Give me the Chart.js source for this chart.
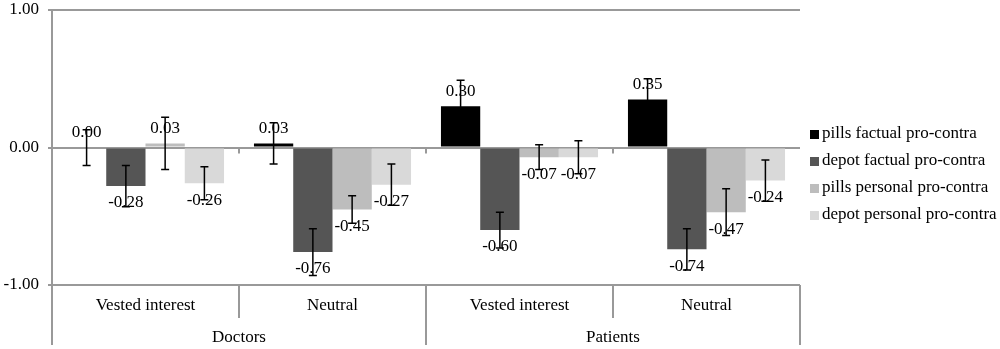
<!DOCTYPE html>
<html>
<head>
<meta charset="utf-8">
<script src="https://cdn.jsdelivr.net/npm/chart.js@4.4.0/dist/chart.umd.min.js"></script>
<style>
  html, body { margin: 0; padding: 0; background: #fff; }
  #wrap { width: 1000px; height: 349px; }
</style>
</head>
<body>
<div id="wrap"><canvas id="chart" width="1000" height="349"></canvas></div>
<script>
const categories = [`Vested interest`, `Neutral`, `Vested interest`, `Neutral`];
const groups = [`Doctors`, `Patients`];
const seriesNames = [`pills factual pro-contra`, `depot factual pro-contra`, `pills personal pro-contra`, `depot personal pro-contra`];
const pillsFactual = [0.00, 0.03, 0.30, 0.35];
const depotFactual = [-0.28, -0.76, -0.60, -0.74];
const pillsPersonal = [0.03, -0.45, -0.07, -0.47];
const depotPersonal = [-0.26, -0.27, -0.07, -0.24];
const pillsFactualErr = [0.13, 0.15, 0.19, 0.15];
const depotFactualErr = [0.15, 0.17, 0.13, 0.15];
const pillsPersonalErr = [0.19, 0.10, 0.09, 0.17];
const depotPersonalErr = [0.12, 0.15, 0.12, 0.15];
const yTicks = [-1, 0, 1];

const serif = `"Liberation Serif", "Times New Roman", serif`;
const colors = [`#000000`, `#555555`, `#bdbdbd`, `#d9d9d9`];
const errors = [pillsFactualErr, depotFactualErr, pillsPersonalErr, depotPersonalErr];
const gridGray = `#999999`;

const overlay = {
    id: `overlay`,
    afterDatasetsDraw(chart) {
        const { ctx, chartArea, scales: { x, y } } = chart;
        ctx.save();
        ctx.font = `17px ${serif}`;
        ctx.fillStyle = `#000`;
        ctx.textAlign = `center`;
        ctx.textBaseline = `middle`;

        // value labels
        chart.data.datasets.forEach((ds, di) => {
            chart.getDatasetMeta(di).data.forEach((bar, i) => {
                const v = ds.data[i];
                const ty = v >= 0 ? bar.y - 15 : bar.y + 17;
                ctx.fillText(v.toFixed(2), bar.x, ty);
            });
        });

        // error bars, drawn over the labels like the original
        ctx.strokeStyle = `#000`;
        ctx.lineWidth = 1.5;
        chart.data.datasets.forEach((ds, di) => {
            chart.getDatasetMeta(di).data.forEach((bar, i) => {
                const v = ds.data[i];
                const e = errors[di][i];
                const top = y.getPixelForValue(v + e);
                const bottom = y.getPixelForValue(v - e);
                ctx.beginPath();
                ctx.moveTo(bar.x, top);
                ctx.lineTo(bar.x, bottom);
                ctx.moveTo(bar.x - 4, top);
                ctx.lineTo(bar.x + 4, top);
                ctx.moveTo(bar.x - 4, bottom);
                ctx.lineTo(bar.x + 4, bottom);
                ctx.stroke();
            });
        });

        // category boundaries
        const edges = [chartArea.left];
        for (let i = 0; i < categories.length - 1; i++) {
            edges.push((x.getPixelForValue(i) + x.getPixelForValue(i + 1)) / 2);
        }
        edges.push(chartArea.right);

        ctx.strokeStyle = gridGray;
        ctx.lineWidth = 2;
        const zeroY = y.getPixelForValue(0);
        ctx.beginPath();
        for (let i = 1; i < edges.length - 1; i++) {
            ctx.moveTo(edges[i], zeroY);
            ctx.lineTo(edges[i], zeroY + 6);
        }
        // two-level category axis below the plot
        edges.forEach((ex, i) => {
            const outer = i % 2 === 0;
            ctx.moveTo(ex, chartArea.bottom);
            ctx.lineTo(ex, outer ? 345 : 318);
        });
        ctx.stroke();

        ctx.fillStyle = `#000`;
        categories.forEach((c, i) => {
            ctx.fillText(c, (edges[i] + edges[i + 1]) / 2, chartArea.bottom + 21);
        });
        groups.forEach((g, i) => {
            ctx.fillText(g, (edges[i * 2] + edges[i * 2 + 2]) / 2, chartArea.bottom + 53);
        });

        // legend
        ctx.textAlign = `left`;
        const midY = chart.height / 2;
        seriesNames.forEach((name, i) => {
            const ly = midY + (i - 1.5) * 27;
            ctx.fillStyle = colors[i];
            ctx.fillRect(810, ly - 4, 9, 9);
            ctx.fillStyle = `#000`;
            ctx.fillText(name, 822, ly);
        });
        ctx.restore();
    }
};

new Chart(document.getElementById(`chart`), {
    type: `bar`,
    data: {
        labels: categories,
        datasets: seriesNames.map((name, i) => ({
            label: name,
            data: [pillsFactual, depotFactual, pillsPersonal, depotPersonal][i],
            backgroundColor: colors[i],
            borderWidth: 0,
            categoryPercentage: 0.84,
            barPercentage: 1.0
        }))
    },
    options: {
        responsive: false,
        animation: false,
        layout: { padding: { top: 0, right: 200, bottom: 0, left: 0 } },
        plugins: {
            legend: { display: false },
            tooltip: { enabled: false }
        },
        scales: {
            x: {
                ticks: { display: false },
                grid: { display: false },
                border: { display: false },
                afterFit(scale) { scale.height = 64; }
            },
            y: {
                min: -1,
                max: 1,
                afterBuildTicks(scale) { scale.ticks = yTicks.map(v => ({ value: v })); },
                ticks: {
                    color: `#000`,
                    font: { family: serif, size: 17 },
                    padding: 9,
                    callback: v => Number(v).toFixed(2)
                },
                grid: { color: gridGray, lineWidth: 2, tickLength: 4 },
                border: { color: gridGray, width: 2 },
                afterFit(scale) {
                    scale.width = 52;
                    scale.paddingTop = 10;
                }
            }
        }
    },
    plugins: [overlay]
});
</script>
</body>
</html>
